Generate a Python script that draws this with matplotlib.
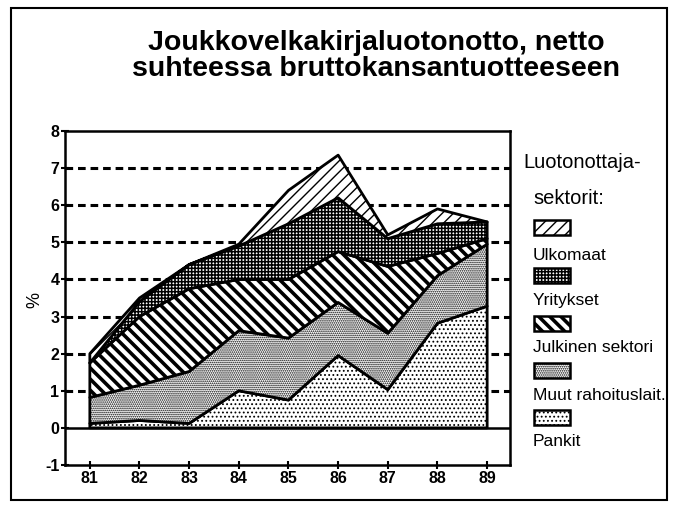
import numpy as np
import matplotlib
matplotlib.use("Agg")
import matplotlib.pyplot as plt
from matplotlib.patches import Rectangle

plt.rcParams['font.family'] = ['Liberation Sans', 'DejaVu Sans']

# vuodet ja sektorikohtaiset osuudet (% BKT:sta), luettu kuvasta
years = [81, 82, 83, 84, 85, 86, 87, 88, 89]
year_labels = ['81', '82', '83', '84', '85', '86', '87', '88', '89']
pankit = [0.12, 0.20, 0.12, 1.00, 0.75, 1.95, 1.03, 2.82, 3.28]
muut = [0.70, 0.95, 1.40, 1.62, 1.67, 1.43, 1.52, 1.28, 1.67]
julkinen = [0.93, 1.85, 2.23, 1.38, 1.58, 1.37, 1.80, 0.60, 0.15]
yritykset = [0.00, 0.40, 0.65, 0.90, 1.50, 1.45, 0.75, 0.80, 0.45]
ulkomaat = [0.25, 0.10, 0.00, 0.05, 0.90, 1.15, 0.10, 0.40, 0.00]

series = [pankit, muut, julkinen, yritykset, ulkomaat]
names = ['Pankit', 'Muut rahoituslait.', 'Julkinen sektori', 'Yritykset', 'Ulkomaat']
hatches = ['....', '........', '\\\\\\', '+++++', '///']
hatch_lw = [0.8, 0.8, 2.6, 1.1, 1.0]

fig = plt.figure(figsize=(6.73, 5.08), dpi=100)
ax = fig.add_axes([65 / 673, 43 / 508, 445 / 673, 334 / 508])

# kehys koko kuvan ympärille
fig.add_artist(Rectangle((11 / 673, 8 / 508), 656 / 673, 492 / 508, transform=fig.transFigure,
                         fill=False, lw=1.5, ec='black'))

x = np.array(years, dtype=float)
base = np.zeros(len(years))
for vals, h, hl in zip(series, hatches, hatch_lw):
    top = base + np.array(vals)
    poly = ax.fill_between(x, base, top, facecolor='white', edgecolor='black', hatch=h, lw=2, zorder=3)
    try:
        poly.set_hatch_linewidth(hl)
    except AttributeError:
        pass
    base = top

for y in range(1, 8):
    ax.axhline(y, color='black', lw=2.2, ls=(0, (2.5, 1.6)), zorder=1)
ax.axhline(0, color='black', lw=1.8, zorder=4)

ax.set_xlim(80.5, 89.46)
ax.set_ylim(-1, 8)
ax.set_xticks(years)
ax.set_xticklabels(year_labels, fontweight='bold', fontsize=11.5)
ax.set_yticks(range(-1, 9))
ax.set_yticklabels([str(v) for v in range(-1, 9)], fontweight='bold', fontsize=11.5)
ax.tick_params(direction='inout', length=6, width=1.5, pad=1)
for s in ax.spines.values():
    s.set_linewidth(1.8)
ax.set_ylabel('%', fontsize=13)
ax.yaxis.set_label_coords(-22 / 445, 165 / 334)

fig.text(376 / 673, 1 - 56 / 508, 'Joukkovelkakirjaluotonotto, netto\nsuhteessa bruttokansantuotteeseen',
         ha='center', va='center', fontsize=20.5, fontweight='bold', linespacing=1.0)

fig.text(523 / 673, 1 - 163 / 508, 'Luotonottaja-', fontsize=14.5, va='center')
fig.text(533 / 673, 1 - 198 / 508, 'sektorit:', fontsize=14.5, va='center')

box_top = [220, 268, 316, 363, 410]
label_y = [255, 301, 348, 395, 441]
for i, k in enumerate([4, 3, 2, 1, 0]):
    r = Rectangle((534 / 673, 1 - (box_top[i] + 15) / 508), 36 / 673, 15 / 508,
                  transform=fig.transFigure, facecolor='white', edgecolor='black', lw=1.8,
                  hatch=hatches[k])
    try:
        r.set_hatch_linewidth(hatch_lw[k])
    except AttributeError:
        pass
    fig.add_artist(r)
    fig.text(533 / 673, 1 - label_y[i] / 508, names[k], fontsize=12.5, va='center')

fig.savefig('out.png', dpi=100)
